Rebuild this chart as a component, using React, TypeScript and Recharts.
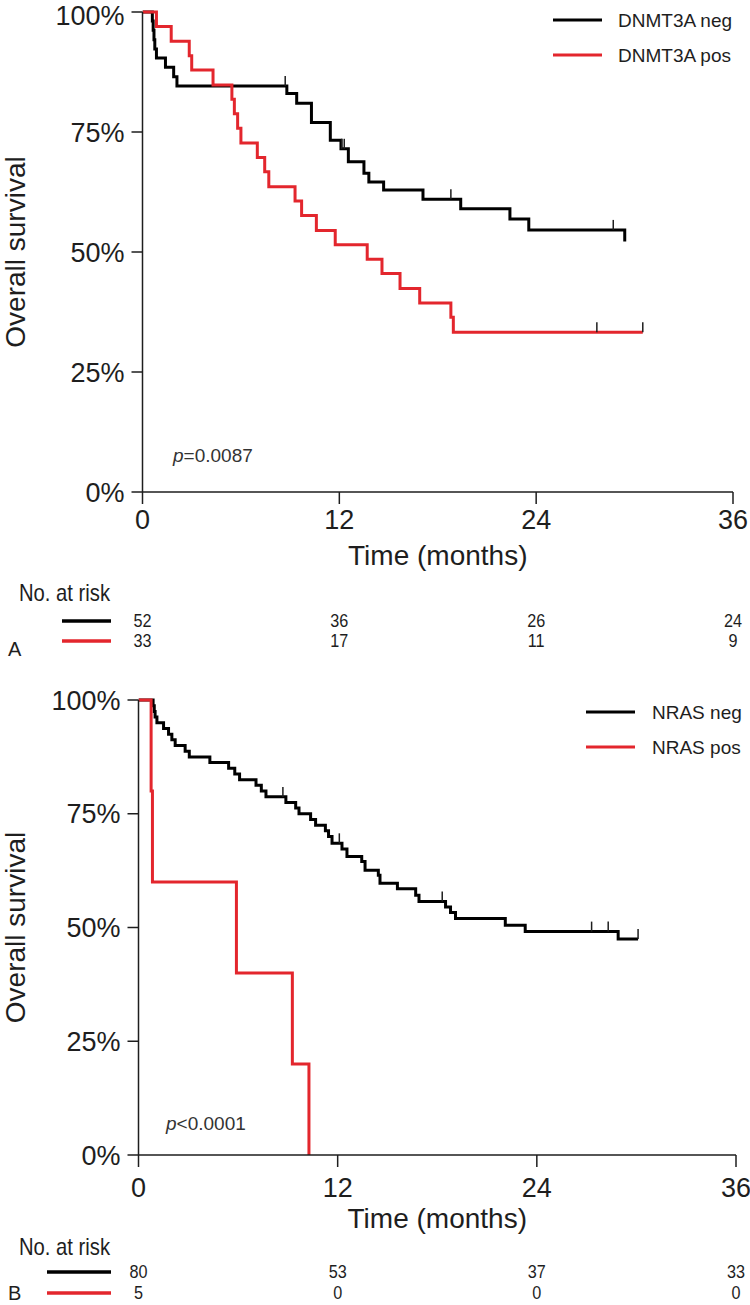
import React from "react";
import { ComposedChart, Line, XAxis, YAxis } from "recharts";

const FONT = '"Liberation Sans", Arial, sans-serif';
const RED = "#e3262d";
const INK = "#1e1e1e";

const monthTicks = [0, 12, 24, 36];
const survivalTicks = [0, 25, 50, 75, 100];

// Panel A: DNMT3A — [month, survival %] at each step
const dnmt3aNegSteps: [number, number][] = [
  [0, 100], [0.6, 98.1], [0.65, 96.2], [0.7, 94.2], [0.75, 92.3], [0.85, 90.4],
  [1.4, 88.5], [1.9, 86.5], [2.1, 84.6], [8.8, 83.0], [9.4, 81.0], [10.3, 77.0],
  [11.45, 73.3], [12.1, 71.5], [12.55, 68.8], [13.5, 66.4], [13.8, 64.6],
  [14.7, 62.9], [17.1, 61.0], [19.4, 59.0], [22.4, 56.9], [23.55, 54.6], [29.4, 52.2],
];
const dnmt3aPosSteps: [number, number][] = [
  [0, 100], [0.85, 97.0], [1.75, 93.9], [2.85, 90.9], [3.0, 87.9], [4.3, 84.8],
  [5.45, 81.8], [5.6, 78.8], [5.8, 75.8], [6.0, 72.7], [7.0, 69.7], [7.45, 66.7],
  [7.7, 63.6], [9.3, 60.6], [9.7, 57.6], [10.6, 54.5], [11.75, 51.5], [13.7, 48.5],
  [14.6, 45.5], [15.7, 42.4], [16.9, 39.4], [18.8, 36.4], [18.95, 33.3], [30.5, 33.3],
];
const dnmt3aNegCensored: [number, number][] = [[8.7, 84.6], [12.15, 71.5], [12.3, 71.5], [18.8, 61.0], [28.7, 54.6]];
const dnmt3aPosCensored: [number, number][] = [[27.7, 33.3], [30.5, 33.3]];
const dnmt3aNegAtRisk = [52, 36, 26, 24];
const dnmt3aPosAtRisk = [33, 17, 11, 9];

// Panel B: NRAS
const nrasNegSteps: [number, number][] = [
  [0, 100], [0.88, 98.75], [0.95, 97.5], [1.0, 96.25], [1.11, 95], [1.51, 93.75],
  [1.81, 92.5], [2.01, 91.25], [2.21, 90], [2.81, 88.75], [3.06, 87.5], [4.3, 86.25],
  [5.43, 85], [5.8, 83.75], [6.09, 82.5], [7.08, 81.25], [7.4, 80], [7.68, 78.75],
  [8.88, 77.5], [9.47, 76.25], [9.67, 75], [10.37, 73.75], [10.67, 72.5], [11.26, 71.25],
  [11.45, 70], [11.66, 68.5], [12.26, 67.25], [12.56, 65.6], [13.45, 64.5], [13.65, 62.6],
  [14.45, 61.5], [14.55, 59.7], [15.6, 58.5], [16.7, 57.1], [16.9, 55.7], [18.5, 54.5],
  [18.8, 53.3], [19.1, 52.0], [22.1, 50.5], [23.3, 49.1], [28.9, 47.5], [30.1, 47.5],
];
const nrasPosSteps: [number, number][] = [
  [0, 100], [0.76, 80], [0.84, 60], [5.9, 40], [9.27, 20], [10.27, 0],
];
const nrasNegCensored: [number, number][] = [[8.7, 78.7], [12.1, 68.5], [18.3, 55.7], [27.3, 49.1], [28.3, 49.1], [30.1, 47.5]];
const nrasPosCensored: [number, number][] = [];
const nrasNegAtRisk = [80, 53, 37, 33];
const nrasPosAtRisk = [5, 0, 0, 0];

const toPoints = (steps: [number, number][]) => steps.map(([t, s]) => ({ t, s }));

// condensed look (no narrow font installed): squeeze horizontally
const NarrowText = ({ x, y, size, anchor, squeeze = 0.84, children }: any) => (
  <text
    transform={`translate(${x} ${y}) scale(${squeeze} 1)`}
    x={0}
    y={0}
    textAnchor={anchor || "start"}
    dominantBaseline="central"
    fontSize={size}
    fontFamily={FONT}
    fill={INK}
  >
    {children}
  </text>
);

const CensorMark = (props: any) => {
  const { cx, cy } = props;
  if (cx == null || cy == null) return null;
  return <line x1={cx} y1={cy} x2={cx} y2={cy - 10} stroke={INK} strokeWidth={1.5} />;
};

type PanelProps = {
  top: number;
  height: number;
  plotTop: number;
  plotBottom: number;
  plotLeft: number;
  plotRight: number;
  neg: [number, number][];
  pos: [number, number][];
  negCensored: [number, number][];
  posCensored: [number, number][];
  negRisk: number[];
  posRisk: number[];
  negLabel: string;
  posLabel: string;
  pRest: string;
  letter: string;
  legendLineX: number;
  legendTextX: number;
  legendY: number;
  pX: number;
  pY: number;
  tickDy: number;
  timeDy: number;
  riskHeadDy: number;
  riskRow1Dy: number;
  riskRow2Dy: number;
  letterDy: number;
  riskLineX1: number;
};

const KMPanel = (p: PanelProps) => {
  const plotH = p.plotBottom - p.plotTop;
  const yMid = p.plotTop + plotH / 2;
  const xMid = (p.plotLeft + p.plotRight) / 2;
  const base = p.plotBottom;

  const MonthTick = (tp: any) => {
    const { x, payload } = tp;
    const i = monthTicks.indexOf(payload.value);
    return (
      <g>
        <text x={x} y={base + p.tickDy} textAnchor="middle" dominantBaseline="central" fontSize={27} fontFamily={FONT} fill={INK}>
          {payload.value}
        </text>
        <NarrowText x={x} y={base + p.riskRow1Dy} size={18} squeeze={0.9} anchor="middle">{p.negRisk[i]}</NarrowText>
        <NarrowText x={x} y={base + p.riskRow2Dy} size={18} squeeze={0.9} anchor="middle">{p.posRisk[i]}</NarrowText>
      </g>
    );
  };

  return (
    <div style={{ position: "absolute", left: 0, top: p.top }}>
      <ComposedChart
        width={750}
        height={p.height}
        margin={{ top: p.plotTop, left: p.plotLeft - 60, right: 750 - p.plotRight, bottom: p.height - p.plotBottom - 30 }}
      >
        <XAxis
          type="number"
          dataKey="t"
          domain={[0, 36]}
          ticks={monthTicks}
          height={30}
          tickSize={12}
          tick={<MonthTick />}
          axisLine={{ stroke: INK, strokeWidth: 1.5 }}
          tickLine={{ stroke: INK, strokeWidth: 1.5 }}
          allowDataOverflow
        />
        <YAxis
          type="number"
          dataKey="s"
          domain={[0, 100]}
          ticks={survivalTicks}
          width={60}
          tickSize={11}
          tickMargin={7}
          tickFormatter={(v: number) => `${v}%`}
          tick={{ fontSize: 27, fill: INK, fontFamily: FONT }}
          axisLine={{ stroke: INK, strokeWidth: 1.5 }}
          tickLine={{ stroke: INK, strokeWidth: 1.5 }}
        />
        <Line data={toPoints(p.neg)} dataKey="s" type="stepAfter" stroke="#000" strokeWidth={3} dot={false} isAnimationActive={false} />
        <Line data={toPoints(p.pos)} dataKey="s" type="stepAfter" stroke={RED} strokeWidth={3} dot={false} isAnimationActive={false} />
        <Line data={toPoints(p.negCensored)} dataKey="s" stroke="none" dot={<CensorMark />} activeDot={false} isAnimationActive={false} />
        <Line data={toPoints(p.posCensored)} dataKey="s" stroke="none" dot={<CensorMark />} activeDot={false} isAnimationActive={false} />

        <text x={15} y={yMid} transform={`rotate(-90 15 ${yMid})`} textAnchor="middle" dominantBaseline="central" fontSize={28} fontFamily={FONT} fill={INK}>
          Overall survival
        </text>
        <text x={xMid} y={base + p.timeDy} textAnchor="middle" dominantBaseline="central" fontSize={28} fontFamily={FONT} fill={INK}>
          Time (months)
        </text>

        <line x1={p.legendLineX} x2={p.legendLineX + 49} y1={p.legendY} y2={p.legendY} stroke="#000" strokeWidth={3} />
        <line x1={p.legendLineX} x2={p.legendLineX + 49} y1={p.legendY + 35} y2={p.legendY + 35} stroke={RED} strokeWidth={3} />
        <text x={p.legendTextX} y={p.legendY} dominantBaseline="central" fontSize={19} fontFamily={FONT} fill={INK}>{p.negLabel}</text>
        <text x={p.legendTextX} y={p.legendY + 35} dominantBaseline="central" fontSize={19} fontFamily={FONT} fill={INK}>{p.posLabel}</text>

        <text x={p.pX} y={p.pY} dominantBaseline="central" fontSize={19} fontFamily={FONT} fill="#333">
          <tspan fontStyle="italic">p</tspan>
          {p.pRest}
        </text>

        <NarrowText x={19} y={base + p.riskHeadDy} size={23} squeeze={0.88}>No. at risk</NarrowText>
        <line x1={p.riskLineX1} x2={111} y1={base + p.riskRow1Dy} y2={base + p.riskRow1Dy} stroke="#000" strokeWidth={3.5} />
        <line x1={p.riskLineX1} x2={111} y1={base + p.riskRow2Dy} y2={base + p.riskRow2Dy} stroke={RED} strokeWidth={3.5} />
        <text x={8} y={base + p.letterDy} dominantBaseline="central" fontSize={20} fontFamily={FONT} fill={INK}>{p.letter}</text>
      </ComposedChart>
    </div>
  );
};

export default function App() {
  return (
    <div style={{ position: "absolute", left: 0, top: 0, width: 750, height: 1305, background: "#fff" }}>
      <KMPanel
        top={0}
        height={660}
        plotTop={12}
        plotBottom={492}
        plotLeft={142.5}
        plotRight={733}
        neg={dnmt3aNegSteps}
        pos={dnmt3aPosSteps}
        negCensored={dnmt3aNegCensored}
        posCensored={dnmt3aPosCensored}
        negRisk={dnmt3aNegAtRisk}
        posRisk={dnmt3aPosAtRisk}
        negLabel="DNMT3A neg"
        posLabel="DNMT3A pos"
        pRest="=0.0087"
        letter="A"
        legendLineX={553}
        legendTextX={618}
        legendY={20}
        pX={173}
        pY={455}
        tickDy={28}
        timeDy={63}
        riskHeadDy={101}
        riskRow1Dy={129}
        riskRow2Dy={149}
        letterDy={157}
        riskLineX1={62}
      />
      <KMPanel
        top={660}
        height={645}
        plotTop={40}
        plotBottom={495}
        plotLeft={138.5}
        plotRight={736}
        neg={nrasNegSteps}
        pos={nrasPosSteps}
        negCensored={nrasNegCensored}
        posCensored={nrasPosCensored}
        negRisk={nrasNegAtRisk}
        posRisk={nrasPosAtRisk}
        negLabel="NRAS neg"
        posLabel="NRAS pos"
        pRest="<0.0001"
        letter="B"
        legendLineX={586}
        legendTextX={652}
        legendY={52}
        pX={166}
        pY={463}
        tickDy={33}
        timeDy={63}
        riskHeadDy={92}
        riskRow1Dy={117}
        riskRow2Dy={138}
        letterDy={138}
        riskLineX1={47}
      />
    </div>
  );
}
